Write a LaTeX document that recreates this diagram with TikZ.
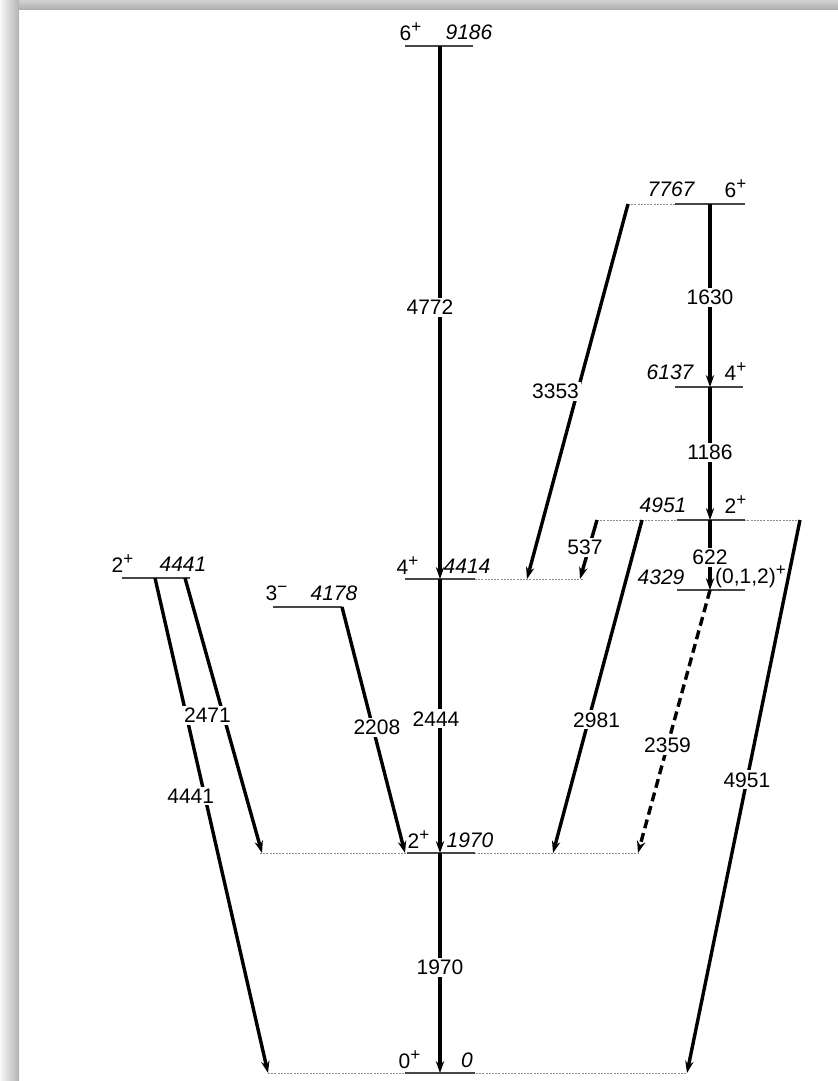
\documentclass[tikz,border=0pt]{standalone}
\usepackage{fontspec}
\setmainfont{Liberation Sans}
\usepackage{xcolor}
\usepackage{tikz}
\usetikzlibrary{arrows.meta, positioning}
\definecolor{inkline}{RGB}{70, 70, 70}
\definecolor{inkdot}{RGB}{140, 140, 140}
\tikzset{
    lvl/.style   ={draw=inkline, line width=0.55pt},
    lvlext/.style={draw=inkdot, line width=0.5pt, dash pattern=on 1pt off 0.6pt},
    tr/.style    ={-{Stealth[length=6pt, width=4.2pt]}, line width=1.7pt, draw=black},
    trdash/.style={tr, dash pattern=on 4.5pt off 2.5pt},
    glbl/.style  ={font=\fontsize{10.5}{12}\selectfont, fill=white, inner sep=1pt},
    spinlbl/.style={font=\fontsize{10.5}{12}\selectfont, inner sep=0pt},
    enlbl/.style ={font=\fontsize{10.5}{12}\selectfont\itshape, inner sep=0pt}
}
\newcommand{\jp}[2]{#1\textsuperscript{\fontsize{8.5}{9}\selectfont#2}}

\begin{document}
\begin{tikzpicture}[x=0.5pt, y=-0.5pt]
  \useasboundingbox (0,0) rectangle (838,1081);
  % screenshot frame
  \shade[top color=gray!35, bottom color=gray!65] (0,0) rectangle (838,10);
  \shade[left color=gray!5, right color=gray!60] (0,0) rectangle (19,1081);

  % levels
  \draw[lvl] (405,46) -- (473,46);
  \node[spinlbl] (j9186) at (411,32) {\jp{6}{+}};
  \node[enlbl]   (e9186) at (469,32) {9186};

  \draw[lvlext] (628,204) -- (675,204);
  \draw[lvl] (675,204) -- (745,204);
  \node[enlbl]   (e7767) at (671,189) {7767};
  \node[spinlbl] (j7767) at (736,189) {\jp{6}{+}};

  \draw[lvl] (675,387) -- (743,387);
  \node[enlbl]   (e6137) at (670,372) {6137};
  \node[spinlbl] (j6137) at (736,372) {\jp{4}{+}};

  \draw[lvlext] (597,520) -- (800,520);
  \draw[lvl] (677,520) -- (745,520);
  \node[enlbl]   (e4951) at (663,505) {4951};
  \node[spinlbl] (j4951) at (736,505) {\jp{2}{+}};

  \draw[lvl] (677,590) -- (745,590);
  \node[enlbl]   (e4329) at (661,577) {4329};
  \node[spinlbl] (j4329) at (751,577) {\jp{(0,1,2)}{+}};

  \draw[lvlext] (475,579) -- (583,579);
  \draw[lvl] (405,579) -- (475,579);
  \node[spinlbl] (j4414) at (408,566) {\jp{4}{+}};
  \node[enlbl]   (e4414) at (467,566) {4414};

  \draw[lvl] (122,578) -- (190,578);
  \node[spinlbl] (j4441) at (123,564) {\jp{2}{+}};
  \node[enlbl]   (e4441) at (183,564) {4441};

  \draw[lvl] (273,607) -- (342,607);
  \node[spinlbl] (j4178) at (277,593) {\jp{3}{−}};
  \node[enlbl]   (e4178) at (334,593) {4178};

  \draw[lvlext] (260,853) -- (638,853);
  \draw[lvl] (407,853) -- (475,853);
  \node[spinlbl] (j1970) at (419,840) {\jp{2}{+}};
  \node[enlbl]   (e1970) at (470,840) {1970};

  \draw[lvlext] (268,1073) -- (687,1073);
  \draw[lvl] (405,1073) -- (475,1073);
  \node[spinlbl] (j0) at (410,1060) {\jp{0}{+}};
  \node[enlbl]   (e0) at (467,1060) {0};

  % transition end points
  \coordinate (a9186) at (440,46);
  \coordinate (a4414) at (440,579);
  \coordinate (a1970) at (440,853);
  \coordinate (a0)    at (440,1073);
  \coordinate (b7767) at (710,204);
  \coordinate (b6137) at (710,387);
  \coordinate (b4951) at (710,520);
  \coordinate (b4329) at (710,590);
  \coordinate (c7767) at (628,204);
  \coordinate (c4414) at (527,579);
  \coordinate (d4951) at (597,520);
  \coordinate (d4414) at (580,579);
  \coordinate (f4951) at (642,520);
  \coordinate (f1970) at (553,853);
  \coordinate (g1970) at (638,853);
  \coordinate (h4951) at (800,520);
  \coordinate (h0)    at (687,1073);
  \coordinate (k4441) at (155,578);
  \coordinate (k0)    at (268,1073);
  \coordinate (m4441) at (185,578);
  \coordinate (m1970) at (262,853);
  \coordinate (n4178) at (342,607);
  \coordinate (n1970) at (405,853);

  % gamma transitions
  \draw[tr] (a9186) -- node[glbl, pos=0.49, xshift=-5pt] {4772} (a4414);
  \draw[tr] (a4414) -- node[glbl, pos=0.51, xshift=-2pt] {2444} (a1970);
  \draw[tr] (a1970) -- node[glbl, pos=0.52] {1970} (a0);
  \draw[tr] (b7767) -- node[glbl, pos=0.51] {1630} (b6137);
  \draw[tr] (b6137) -- node[glbl, pos=0.49] {1186} (b4951);
  \draw[tr] (b4951) -- node[glbl, pos=0.53] {622} (b4329);
  \draw[tr] (c7767) -- node[glbl, pos=0.5, xshift=-11pt] {3353} (c4414);
  \draw[tr] (d4951) -- node[glbl, pos=0.47, xshift=-2pt] {537} (d4414);
  \draw[tr] (f4951) -- node[glbl, pos=0.6, xshift=4pt] {2981} (f1970);
  \draw[trdash] (b4329) -- node[glbl, pos=0.59] {2359} (g1970);
  \draw[tr] (h4951) -- node[glbl, pos=0.47] {4951} (h0);
  \draw[tr] (k4441) -- node[glbl, pos=0.44, xshift=-7pt] {4441} (k0);
  \draw[tr] (m4441) -- node[glbl, pos=0.5, xshift=-8pt] {2471} (m1970);
  \draw[tr] (n4178) -- node[glbl, pos=0.49, xshift=2pt] {2208} (n1970);
\end{tikzpicture}
\end{document}
